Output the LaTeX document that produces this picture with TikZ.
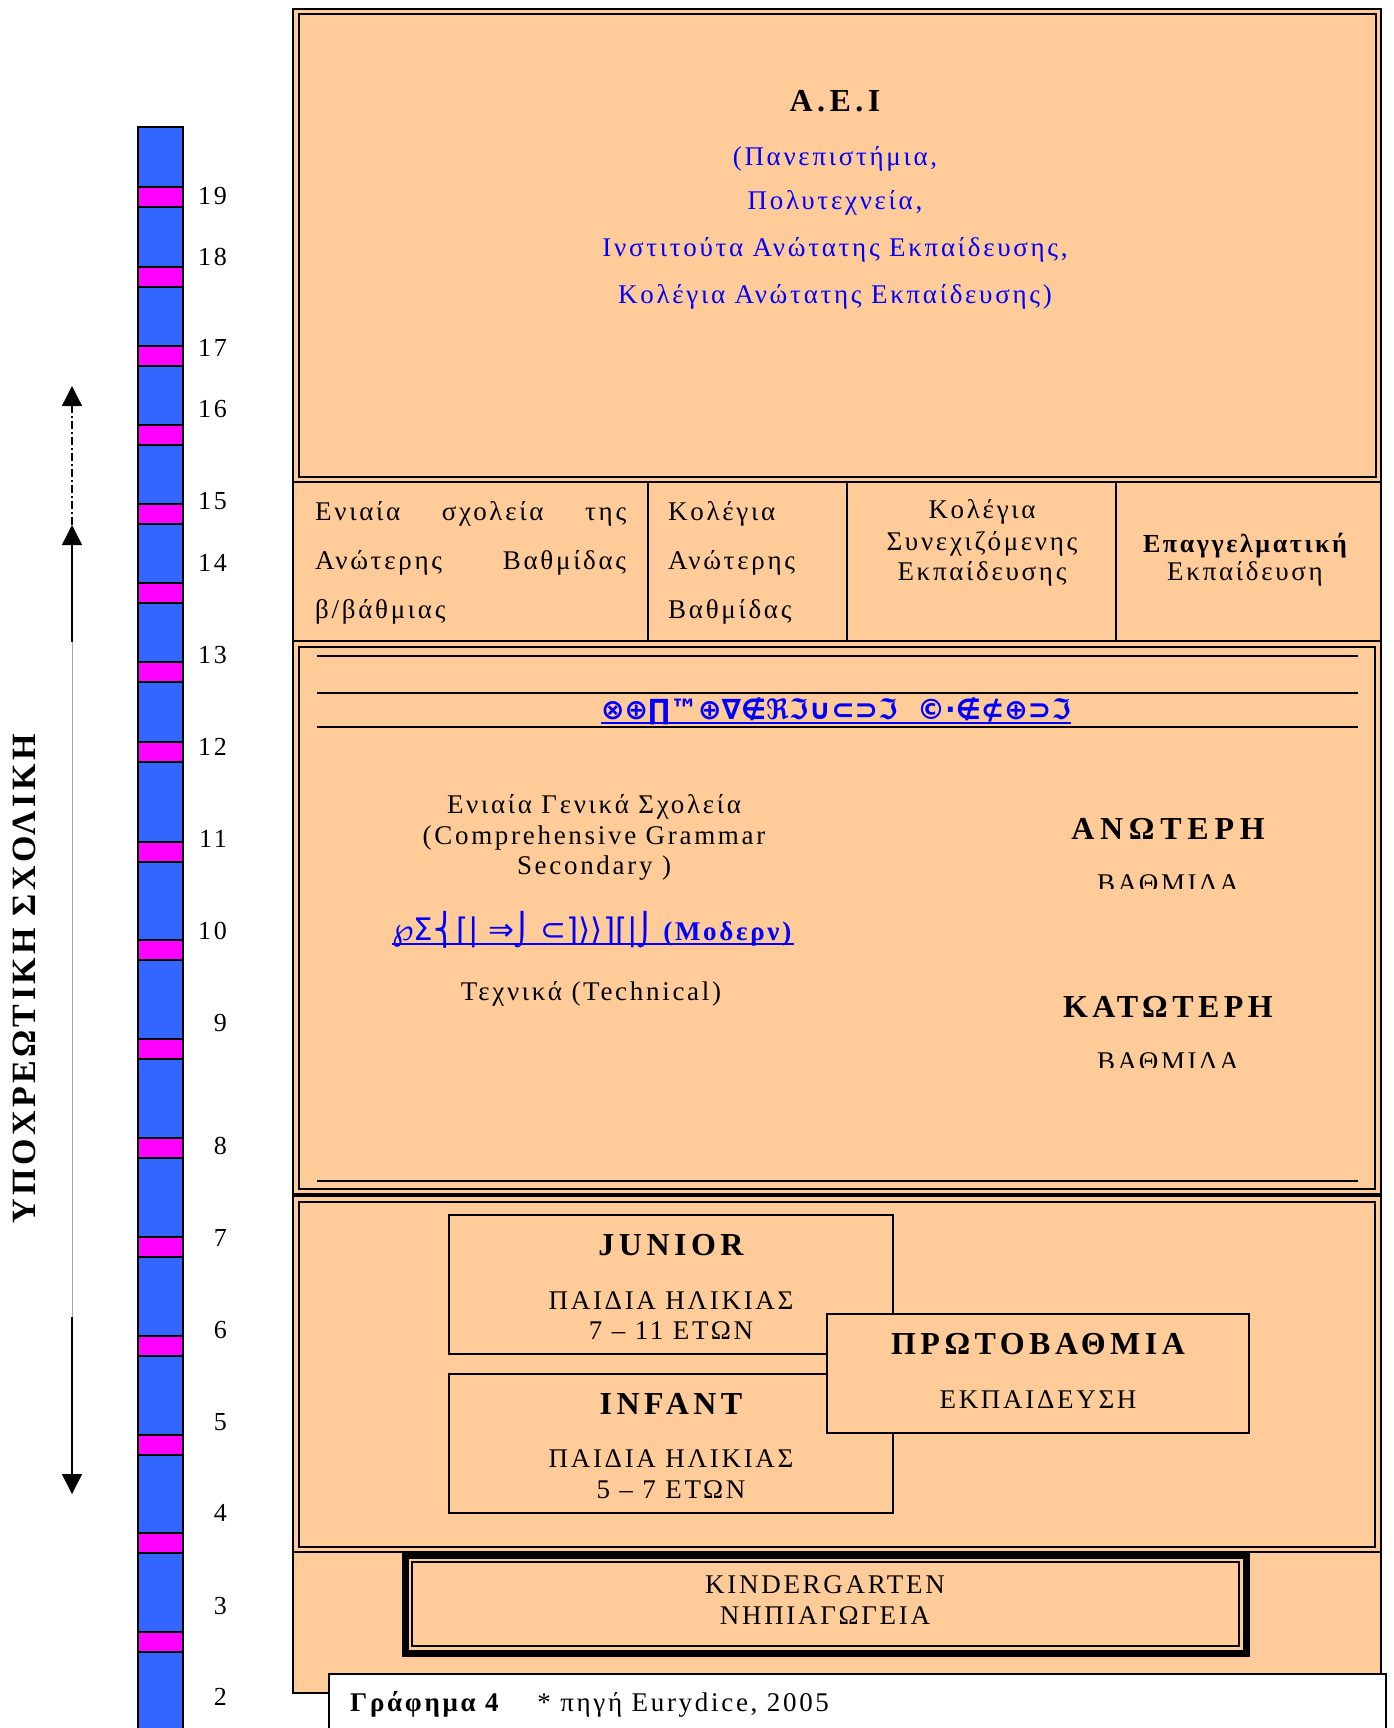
\documentclass[tikz,border=0pt]{standalone}
\usepackage{fontspec}
\setmainfont{Liberation Serif}[LetterSpace=10]
\newfontfamily\symfont{DejaVu Sans}
\usetikzlibrary{arrows.meta}
\definecolor{peach}{HTML}{FFCC99}
\definecolor{barblue}{HTML}{3366FF}
\definecolor{mag}{HTML}{FF00FF}
\definecolor{lnkblue}{HTML}{0000FF}
\newcommand\setfs[1]{\fontsize{#1}{#1}\selectfont}
\newcommand\wideb{\bfseries\addfontfeatures{LetterSpace=14}}
\tikzset{
  txt/.style={inner sep=0pt, anchor=base, font=\setfs{27}},
  txtw/.style={txt, anchor=base west},
  bigb/.style={inner sep=0pt, anchor=base, font=\setfs{32}\wideb},
  bluetxt/.style={txt, text=lnkblue},
  num/.style={inner sep=0pt, anchor=east, font=\setfs{26}},
  frameo/.style={draw=black, line width=2.5pt},
  framei/.style={draw=black, line width=2pt},
  hline/.style={draw=black, line width=2pt},
  subbox/.style={draw=black, line width=1.5pt},
  arrowhd/.style={-{Triangle[width=20pt,length=20pt]}},
}
\begin{document}
\begin{tikzpicture}[x=1pt,y=-1pt]
\useasboundingbox (0,0) rectangle (1393,1728);
\clip (0,0) rectangle (1393,1728);

% ---------- age bar ----------
\draw[fill=barblue, line width=1.5pt] (138,127) rectangle (183,1745);
\foreach \y in {187,267,346,425,504,583,662,742,842,940,1039,1138,1237,1336,1435,1533,1632}
  \draw[fill=mag, line width=1.5pt] (138,\y) rectangle (183,\y+20);
\foreach \n/\y in {19/196,18/257,17/348,16/409,15/501,14/563,13/655,12/747,11/839,10/931,9/1023,8/1146,7/1238,6/1330,5/1422,4/1513,3/1606,2/1697}
  \node[num] (age\n) at (227,\y) {\n};

% ---------- arrows ----------
\coordinate (uptip) at (72,386);
\coordinate (midtip) at (72,525);
\coordinate (solidend) at (72,642);
\coordinate (lowstart) at (72,1317);
\coordinate (lowtip) at (72,1494);
\draw[line width=1.3pt, dash pattern=on 8pt off 3pt on 2pt off 3pt, arrowhd] (midtip) -- (uptip);
\draw[line width=1.5pt, arrowhd] (solidend) -- (midtip);
\draw[black!35, line width=0.8pt] (solidend) -- (lowstart);
\draw[line width=1.5pt, arrowhd] (lowstart) -- (lowtip);
\node[inner sep=0pt, rotate=90, font=\setfs{34}\bfseries\addfontfeatures{LetterSpace=10}] (compulsory) at (24,979) {ΥΠΟΧΡΕΩΤΙΚΗ ΣΧΟΛΙΚΗ};

% ---------- main frame ----------
\draw[fill=peach, line width=1.5pt] (293,9) rectangle (1381,1693);

% A.E.I box
\draw[frameo] (293,9) rectangle (1381,482);
\draw[framei] (299,14) rectangle (1376,477);
\node[bigb] (aei) at (835,112) {A.E.I};
\node[bluetxt] (aei1) at (835,166) {(Πανεπιστήμια,};
\node[bluetxt] (aei2) at (835,210) {Πολυτεχνεία,};
\node[bluetxt] (aei3) at (835,257) {Ινστιτούτα Ανώτατης Εκπαίδευσης,};
\node[bluetxt] (aei4) at (835,303) {Κολέγια Ανώτατης Εκπαίδευσης)};

% row of four cells
\draw[hline] (648,482) -- (648,641);
\draw[hline] (847,482) -- (847,641);
\draw[hline] (1116,482) -- (1116,641);
\node[txtw] (c1a) at (315,520) {\hbox to 311pt{Ενιαία\hfill σχολεία\hfill της}};
\node[txtw] (c1b) at (315,569) {\hbox to 311pt{Ανώτερης\hfill Βαθμίδας}};
\node[txtw] (c1c) at (315,618) {β/βάθμιας};
\node[txtw] (c2a) at (668,520) {Κολέγια};
\node[txtw] (c2b) at (668,569) {Ανώτερης};
\node[txtw] (c2c) at (668,618) {Βαθμίδας};
\node[txt] (c3a) at (982,518) {Κολέγια};
\node[txt] (c3b) at (982,550) {Συνεχιζόμενης};
\node[txt] (c3c) at (982,580) {Εκπαίδευσης};
\node[txt, font=\setfs{26}\bfseries] (c4a) at (1245,552) {Επαγγελματική};
\node[txt] (c4b) at (1245,580) {Εκπαίδευση};

% secondary box
\draw[frameo] (293,641) rectangle (1381,1194);
\draw[framei] (299,647) rectangle (1375,1189);
\foreach \y in {656,693,727,1181}
  \draw[hline] (317,\y) -- (1358,\y);
\node[txt, text=lnkblue, font=\symfont\bfseries\fontsize{28}{28}\selectfont] (garb1) at (836,719) {⊗⊕∏™⊕∇∉ℜℑ∪⊂⊃ℑ\ \ ©·∉⊄⊕⊃ℑ};
\draw[lnkblue, line width=1.5pt] ([yshift=-4pt]garb1.base west) -- ([yshift=-4pt]garb1.base east);
\node[txt] (gen1) at (594,813) {Ενιαία Γενικά Σχολεία};
\node[txt] (gen2) at (594,844) {(Comprehensive Grammar};
\node[txt] (gen3) at (594,874) {Secondary )};
\node[txt, text=lnkblue] (garb2) at (593,940) {{\symfont\fontsize{31}{31}\selectfont ℘Σ⎨⌈| ⇒⌡ ⊂⌉⟩⟩⌉⌈|⌡} \textbf{(Μοδερν)}};
\draw[lnkblue, line width=1.5pt] ([yshift=-4pt]garb2.base west) -- ([yshift=-4pt]garb2.base east);
\node[txt] (tech) at (591,1000) {Τεχνικά (Technical)};
\node[bigb] (upper) at (1168,839) {\addfontfeatures{LetterSpace=18}ΑΝΩΤΕΡΗ};
\node[bigb] (lower) at (1168,1017) {ΚΑΤΩΤΕΡΗ};
\begin{scope}
  \clip (1000,860) rectangle (1340,888.5);
  \node[txt] (lvl1) at (1168,892) {ΒΑΘΜΙΔΑ};
\end{scope}
\begin{scope}
  \clip (1000,1040) rectangle (1340,1067);
  \node[txt] (lvl2) at (1168,1070.5) {ΒΑΘΜΙΔΑ};
\end{scope}

% primary box
\draw[frameo] (293,1196) rectangle (1381,1552);
\draw[framei] (299,1202) rectangle (1375,1547);
\draw[subbox] (449,1215) rectangle (893,1354);
\draw[subbox] (449,1374) rectangle (893,1513);
\node[bigb] (junior) at (671,1255) {JUNIOR};
\node[txt] (jun1) at (671,1309) {ΠΑΙΔΙΑ ΗΛΙΚΙΑΣ};
\node[txt] (jun2) at (671,1339) {7 – 11 ΕΤΩΝ};
\node[bigb] (infant) at (671,1414) {INFANT};
\node[txt] (inf1) at (671,1467) {ΠΑΙΔΙΑ ΗΛΙΚΙΑΣ};
\node[txt] (inf2) at (671,1498) {5 – 7 ΕΤΩΝ};
\draw[subbox, fill=peach] (827,1314) rectangle (1249,1433);
\node[bigb] (prim) at (1038,1354) {ΠΡΩΤΟΒΑΘΜΙΑ};
\node[txt] (prim2) at (1038,1408) {ΕΚΠΑΙΔΕΥΣΗ};

% kindergarten
\draw[line width=7pt] (405,1555) rectangle (1246,1653);
\draw[subbox] (412,1562) rectangle (1239,1646);
\node[txt] (kg1) at (825,1593) {KINDERGARTEN};
\node[txt] (kg2) at (825,1624) {ΝΗΠΙΑΓΩΓΕΙΑ};

% footer
\draw[fill=white, line width=1.5pt] (329,1674) rectangle (1386,1745);
\node[txtw] (foot) at (350,1711) {\textbf{Γράφημα 4}\hspace{36pt}* πηγή Eurydice, 2005};
\end{tikzpicture}
\end{document}
